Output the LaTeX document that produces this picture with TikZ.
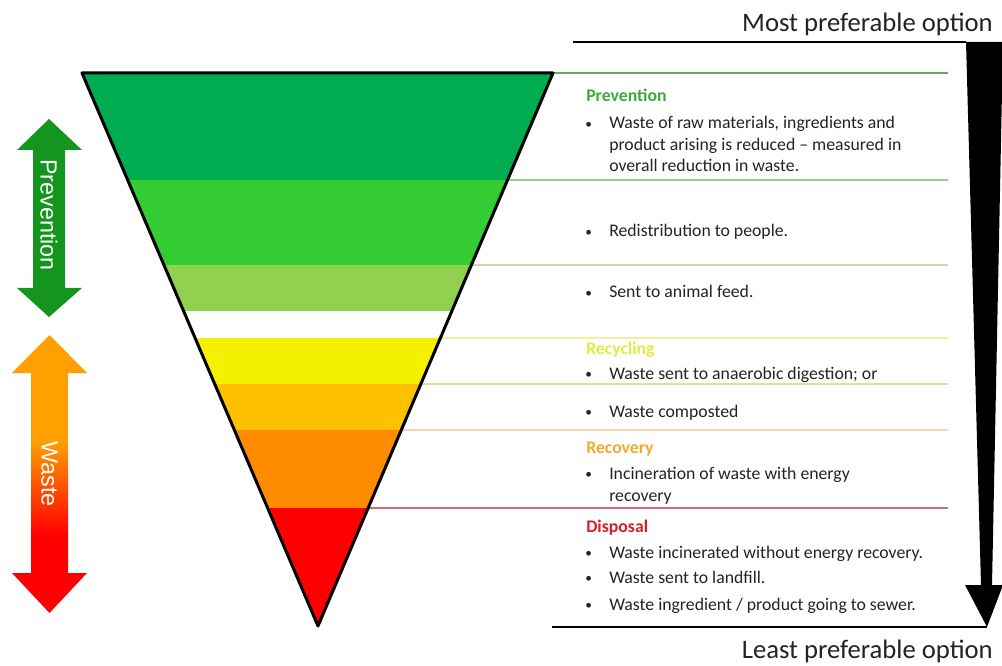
\documentclass[tikz,border=0pt]{standalone}
\usepackage{fontspec}
\setmainfont{Carlito}
\newfontfamily\arialfont{Liberation Sans}
\usepackage{tikz}
\usetikzlibrary{calc}
\definecolor{band1}{RGB}{0,172,80}
\definecolor{band2}{RGB}{51,204,51}
\definecolor{band3}{RGB}{146,208,80}
\definecolor{band4}{RGB}{245,240,0}
\definecolor{band5}{RGB}{255,192,0}
\definecolor{band6}{RGB}{255,140,0}
\definecolor{band7}{RGB}{255,0,0}
\definecolor{prevgreen}{RGB}{20,150,30}
\definecolor{wasteorange}{RGB}{255,160,0}
\definecolor{wastered}{RGB}{255,0,0}
\definecolor{hdrgreen}{RGB}{60,170,60}
\definecolor{hdryellow}{RGB}{225,235,60}
\definecolor{hdrgold}{RGB}{240,170,50}
\definecolor{hdrred}{RGB}{215,30,40}
\definecolor{rulegreen}{RGB}{90,175,90}
\definecolor{rulelight}{RGB}{160,205,110}
\definecolor{ruleyellow}{RGB}{240,230,110}
\definecolor{rulegold}{RGB}{225,200,100}
\definecolor{ruleorange}{RGB}{235,195,130}
\definecolor{rulered}{RGB}{170,30,50}
\definecolor{bodytext}{RGB}{35,35,35}
\pgfdeclareverticalshading{wastefade}{100bp}{color(0bp)=(wastered); color(39bp)=(wastered); color(56bp)=(wasteorange); color(100bp)=(wasteorange)}
\tikzset{
    head/.style={font=\fontsize{13.3}{16}\selectfont\bfseries, anchor=base west, inner sep=0pt},
    item/.style={font=\fontsize{13.3}{16}\selectfont, text=bodytext, anchor=base west, inner sep=0pt, align=left},
    option/.style={font=\fontsize{20}{24}\selectfont, text=bodytext, anchor=base east, inner sep=0pt},
    rule/.style={line width=0.8pt},
    side/.style={font=\arialfont\fontsize{17.5}{20}\selectfont, text=white, rotate=-90, inner sep=0pt}
}
\newcommand{\bul}{\makebox[18pt][l]{\fontsize{10}{10}\selectfont\raisebox{0.6pt}{\textbullet}}}
\newcommand{\ind}{\hspace*{18pt}}
\begin{document}
\begin{tikzpicture}[x=0.75pt, y=-0.75pt]
    \useasboundingbox (0,0) rectangle (1002,666);
    \coordinate (tl) at (82,73);
    \coordinate (tr) at (553,73);
    \coordinate (apex) at (318,626);

    \begin{scope}
        \clip (tl) -- (tr) -- (apex) -- cycle;
        \foreach \ya/\yb/\col in {73/180/band1, 180/265/band2, 265/311/band3, 338/384/band4, 384/430/band5, 430/508/band6, 508/630/band7}
            \fill[\col] (0,\ya) rectangle (600,\yb);
    \end{scope}
    \foreach \yy/\col in {73/rulegreen, 180/rulegreen, 265/rulelight, 338/ruleyellow, 384/rulegold, 430/ruleorange, 508/rulered}
        \draw[rule, \col] ($(tr)!{(\yy-73)/553}!(apex)$) -- (948,\yy);
    \draw[line width=2.25pt, line join=round] (tl) -- (tr) -- (apex) -- cycle;

    \fill[prevgreen] (49,119) -- (82,150) -- (65,150) -- (65,288) -- (82,288) -- (49,317) -- (17,288) -- (33,288) -- (33,150) -- (17,150) -- cycle;
    \node[side] (prevarrow) at (49,215) {Prevention};
    \shade[shading=wastefade] (49.5,335) -- (87,373) -- (68,373) -- (68,573) -- (87,573) -- (49.5,613) -- (12,573) -- (31,573) -- (31,373) -- (12,373) -- cycle;
    \node[side] (wastearrow) at (49.5,474) {Waste};

    \node[option] (most) at (993,32) {Most preferable option};
    \node[option] (least) at (993,658) {Least preferable option};
    \draw[line width=0.9pt] (573,42) -- (966,42);
    \draw[line width=0.9pt] (552,627) -- (987,627);
    \fill (966,42) -- (1003,42) -- (992,585) -- (1003,585) -- (987,627) -- (965,585) -- (981,585) -- cycle;

    \node[head, text=hdrgreen] (prevhdr) at (586,102) {Prevention};
    \node[item] (reduce) at (585,171.5) {\bul Waste of raw materials, ingredients and\\\ind product arising is reduced -- measured in\\\ind overall reduction in waste.};
    \node[item] (redist) at (585,237) {\bul Redistribution to people.};
    \node[item] (feed) at (585,298) {\bul Sent to animal feed.};
    \node[head, text=hdryellow] (rechdr) at (586,354) {Recycling};
    \node[item] (digest) at (585,379) {\bul Waste sent to anaerobic digestion; or};
    \node[item] (compost) at (585,417) {\bul Waste composted};
    \node[head, text=hdrgold] (recovhdr) at (586,453) {Recovery};
    \node[item] (incin) at (585,501) {\bul Incineration of waste with energy\\\ind recovery};
    \node[head, text=hdrred] (disphdr) at (586,532) {Disposal};
    \node[item] (burn) at (585,558) {\bul Waste incinerated without energy recovery.};
    \node[item] (landfill) at (585,583) {\bul Waste sent to landfill.};
    \node[item] (sewer) at (585,610) {\bul Waste ingredient / product going to sewer.};
\end{tikzpicture}
\end{document}
